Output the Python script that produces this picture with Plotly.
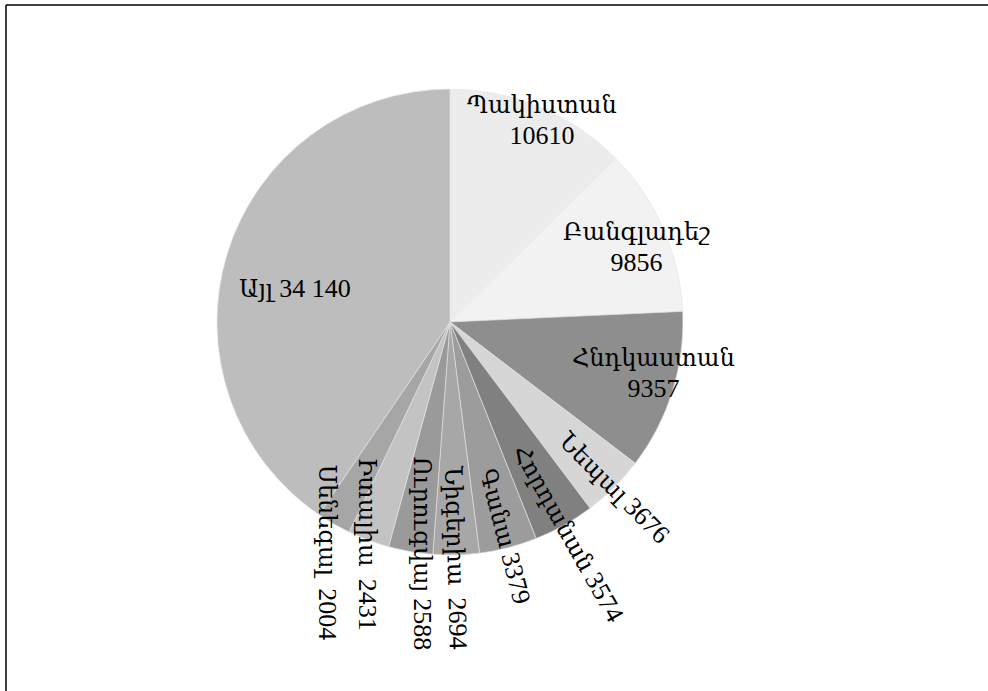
import math
import plotly.graph_objects as go

# ---- data ----
countries = ["Պակիստան", "Բանգլադեշ", "Հնդկաստան", "Նեպալ", "Հորդանան",
             "Գանա", "Նիգերիա", "Ուրուգվայ", "Իտալիա", "Սենեգալ", "Այլ"]
values = [10610, 9856, 9357, 3676, 3574, 3379, 2694, 2588, 2431, 2004, 34140]
value_labels = ["10610", "9856", "9357", "3676", "3574", "3379", "2694",
                "2588", "2431", "2004", "34 140"]

# ---- style ----
colors = ["#ececec", "#f2f2f2", "#8e8e8e", "#d6d6d6", "#808080", "#9c9c9c",
          "#a7a7a7", "#9a9a9a", "#c3c3c3", "#a6a6a6", "#bdbdbd"]
# label placement: mode, radius factor (relative to pie radius), angle offset
label_mode = ["inside2", "inside2", "inside2", "radial", "radial", "radial",
              "radial", "radial", "radial", "radial", "inside1"]
label_r = [0.95, 0.86, 0.90, 1.0, 1.04, 0.95, 1.01, 1.0, 1.02, 1.12, 0.68]
label_da = [2, 2, -3, 0, 0, 0, 0, -3, 0, -2, -5]
label_sep = ["<br>", "<br>", "<br>", " ", " ", " ", "  ", " ", "  ", "  ", " "]

W, H = 988, 691
CX, CY, R = 450, 322, 233
FONT = "Liberation Serif, DejaVu Serif, Times New Roman, serif"

fig = go.Figure(go.Pie(
    labels=countries, values=values, sort=False, direction="clockwise",
    rotation=0, textinfo="none", hoverinfo="label+value",
    marker=dict(colors=colors, line=dict(color="#e6e6e6", width=0.6)),
    domain=dict(x=[(CX - R) / W, (CX + R) / W],
                y=[(H - CY - R) / H, (H - CY + R) / H]),
    showlegend=False,
))

total = sum(values)
cum = 0
annotations = []
for i, v in enumerate(values):
    mid = (cum + v / 2) / total * 360.0
    cum += v
    a = mid + label_da[i]
    rr = label_r[i] * R
    px = CX + rr * math.sin(math.radians(a))
    py = CY - rr * math.cos(math.radians(a))
    angle = 0
    if label_mode[i] == "radial":
        angle = min(mid - 90, 90)
    annotations.append(dict(
        x=px / W, y=1 - py / H, xref="paper", yref="paper",
        text=(countries[i] + label_sep[i]
              + '<span style="font-size:26px">' + value_labels[i] + "</span>"),
        showarrow=False, xanchor="center", yanchor="middle",
        textangle=angle, font=dict(family=FONT, size=24, color="black"),
    ))

fig.update_layout(
    width=W, height=H, margin=dict(l=0, r=0, t=0, b=0),
    paper_bgcolor="white", plot_bgcolor="white",
    annotations=annotations,
    shapes=[
        dict(type="line", xref="paper", yref="paper", x0=6 / W, x1=1,
             y0=1 - 5 / H, y1=1 - 5 / H, line=dict(color="black", width=1.5)),
        dict(type="line", xref="paper", yref="paper", x0=6 / W, x1=6 / W,
             y0=0, y1=1 - 5 / H, line=dict(color="black", width=1.5)),
    ],
)

fig.write_html("out.html", config={"displayModeBar": False},
               post_script="document.body.style.margin='0';document.body.style.overflow='hidden';")
